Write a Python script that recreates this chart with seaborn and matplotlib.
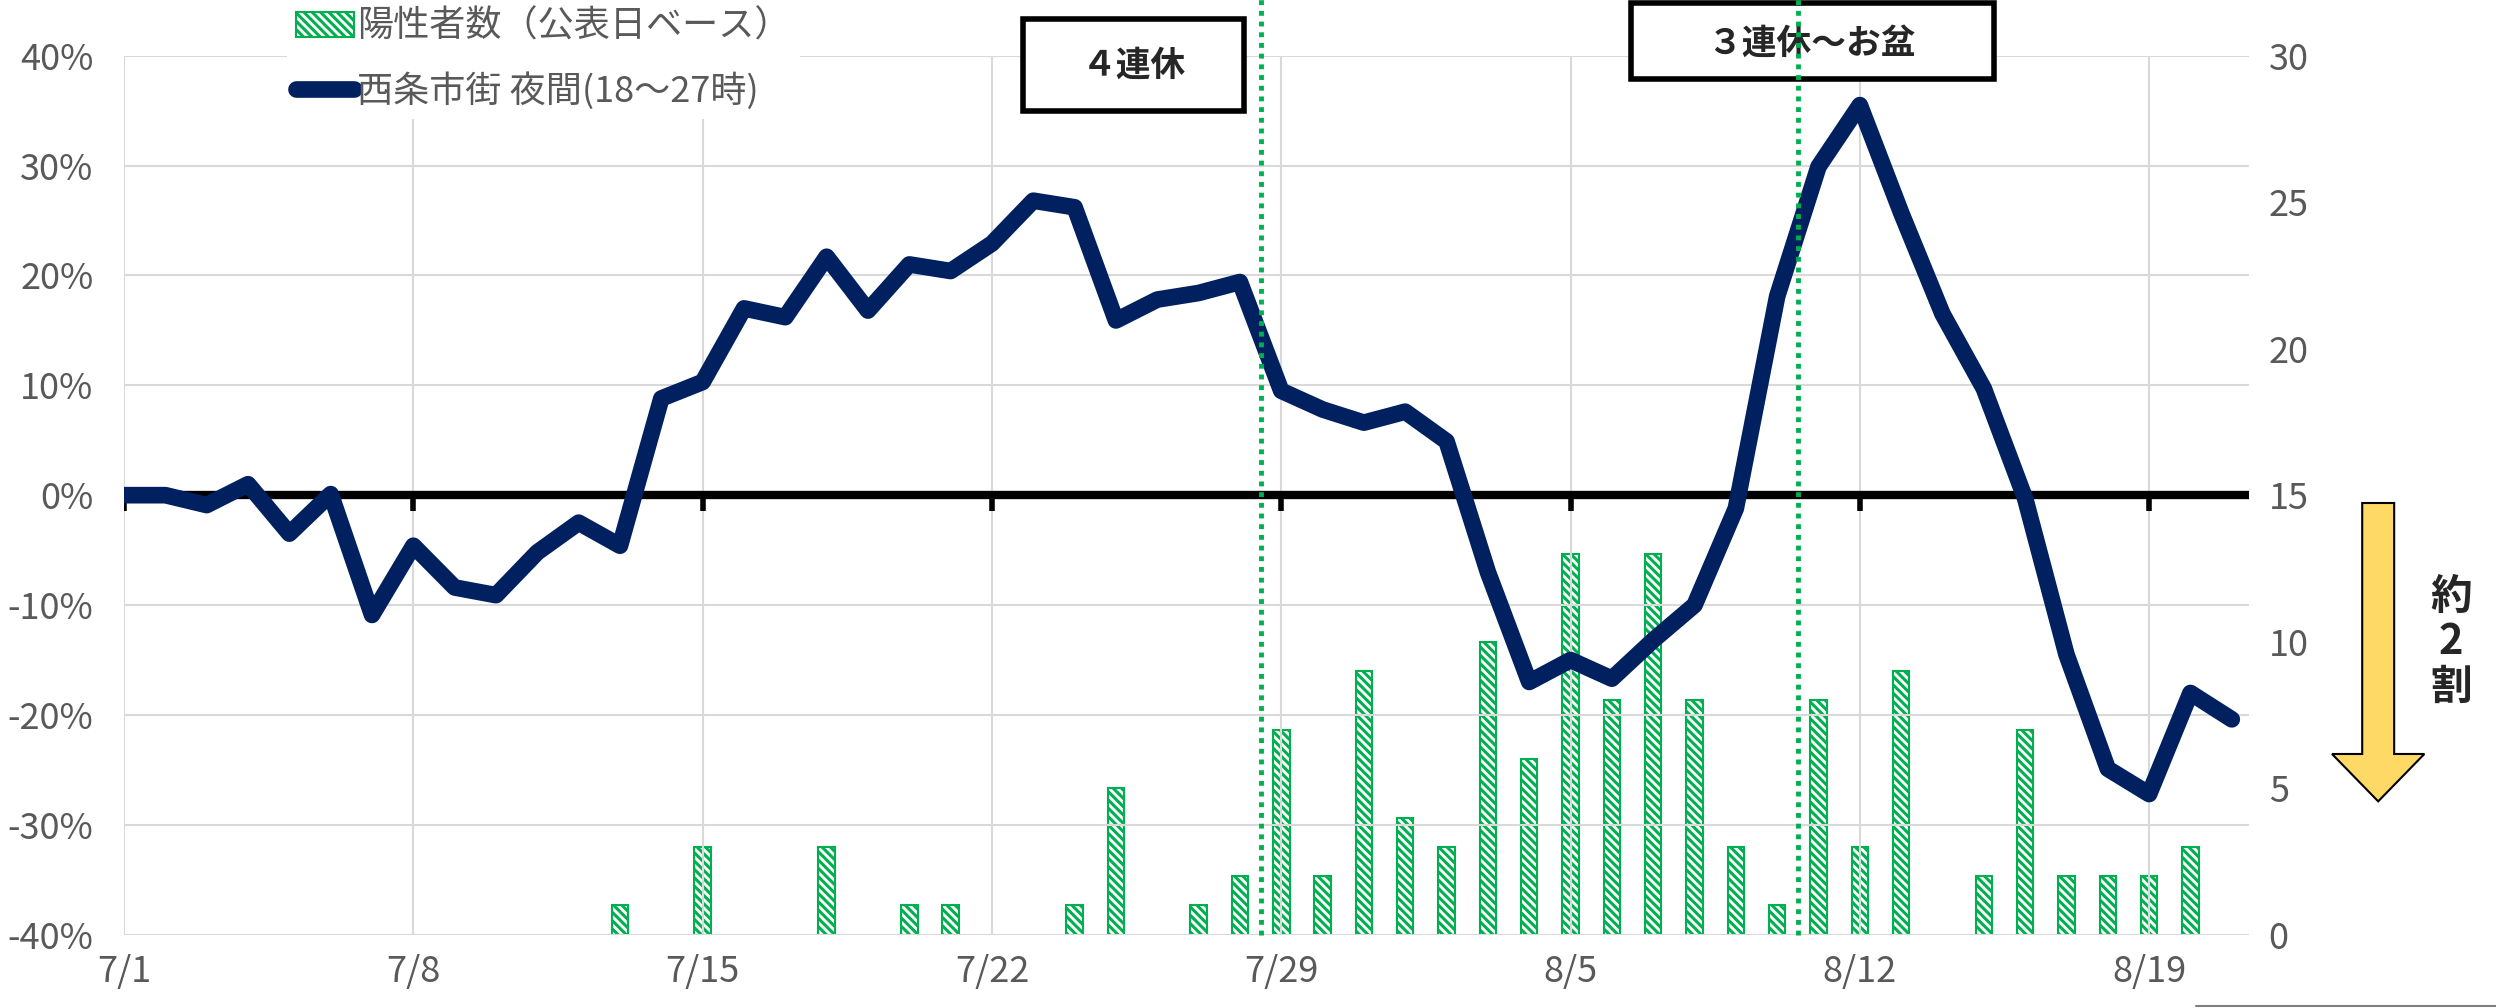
import matplotlib
matplotlib.use("Agg")
import matplotlib.pyplot as plt
from matplotlib.patches import Rectangle, FancyArrow
from matplotlib.lines import Line2D
import seaborn as sns
import pandas as pd
import numpy as np

# ---- data ----
dates = [f"7/{d}" for d in range(1, 32)] + [f"8/{d}" for d in range(1, 22)]

# 西条市街 夜間(18～27時) change vs baseline, %
night_change = [0.0, 0.0, -0.9, 1.0, -3.5, 0.1, -10.9, -4.6, -8.4, -9.1,
                -5.2, -2.5, -4.6, 8.8, 10.3, 17.0, 16.2, 21.7, 16.8, 21.0,
                20.4, 22.9, 26.8, 26.2, 15.9, 17.8, 18.4, 19.4, 9.5, 7.8,
                6.6, 7.6, 4.9, -7.0, -17.0, -15.0, -16.7, -13.2, -10.0, -1.2,
                18.1, 29.9, 35.5, 25.7, 16.5, 9.7, -0.3, -14.5, -24.9, -27.2,
                -18.0, -20.4]

# 陽性者数（公表日ベース）
cases = [0, 0, 0, 0, 0, 0, 0, 0, 0, 0,
         0, 0, 1, 0, 3, 0, 0, 3, 0, 1,
         1, 0, 0, 1, 5, 0, 1, 2, 7, 2,
         9, 4, 3, 10, 6, 13, 8, 13, 8, 3,
         1, 8, 3, 9, 0, 2, 7, 2, 2, 2,
         3, 0]

week_labels = ["7/1", "7/8", "7/15", "7/22", "7/29", "8/5", "8/12", "8/19"]
pct_ticks = [-40, -30, -20, -10, 0, 10, 20, 30, 40]
case_ticks = [0, 5, 10, 15, 20, 25, 30]
# holidays start between these days
holiday_after = ["7/28", "8/10"]

# ---- style ----
sns.set_style("white")
plt.rcParams["font.family"] = ["Noto Sans CJK JP", "DejaVu Sans"]
plt.rcParams["hatch.linewidth"] = 2.2

GRAY = "#595959"
NAVY = "#002060"
GREEN = "#00B050"

fig = plt.figure(figsize=(24.96, 10.08), dpi=100)
ax = fig.add_axes([0.0497, 0.0727, 0.8514, 0.8721])
ax2 = ax.twinx()
ax.set_zorder(ax2.get_zorder() + 1)
ax.patch.set_visible(False)

# bars (right axis)
df = pd.DataFrame({"date": dates, "cases": cases})
df_bars = df[df["cases"] > 0]
sns.barplot(data=df_bars, x="date", y="cases", order=dates, ax=ax2,
            color="white", saturation=1, width=0.4, errorbar=None,
            edgecolor=GREEN, linewidth=1.5, hatch="\\\\\\\\")
ax2.set_ylim(0, 30)
ax2.set_yticks(case_ticks, [str(t) for t in case_ticks])
ax2.set_ylabel("")
ax2.set_xlabel("")

# line (left axis)
x_idx = np.arange(len(dates))
sns.lineplot(x=x_idx, y=night_change, ax=ax, color=NAVY, linewidth=12,
             solid_capstyle="round", solid_joinstyle="round", zorder=4,
             legend=False)

week_pos = [dates.index(w) for w in week_labels]
ax.set_xlim(0, 51.42)
ax.set_ylim(-40, 40)
ax.set_yticks(pct_ticks, [f"{t}%" for t in pct_ticks])
ax.set_xticks(week_pos, week_labels)
ax.grid(True, color="#D9D9D9", linewidth=1.5)
ax.set_axisbelow(True)
ax.set_xlabel("")
ax.set_ylabel("")

# zero line with hanging tick marks
ax.axhline(0, color="black", linewidth=6, zorder=3)
ax.vlines(week_pos, -1.4, 0, color="black", linewidth=4, zorder=3)

for a in (ax, ax2):
    for s in a.spines.values():
        s.set_visible(False)
ax.tick_params(axis="both", length=0, labelsize=26, labelcolor=GRAY)
ax.tick_params(axis="y", pad=22)
ax.tick_params(axis="x", pad=14)
ax2.tick_params(axis="y", length=0, labelsize=26, labelcolor=GRAY, pad=14)

# holiday markers
for d in holiday_after:
    ax.axvline(dates.index(d) + 0.5, ymin=0, ymax=1.064, clip_on=False,
               color=GREEN, linewidth=3.5, linestyle=(0, (1, 1.2)), zorder=6)

# labelled boxes
ax.add_patch(Rectangle((0.423, 0.937), 0.104, 0.105, transform=ax.transAxes,
                       clip_on=False, facecolor="white", edgecolor="black",
                       linewidth=4, zorder=5))
ax.text(0.475, 0.989, "４連休", transform=ax.transAxes, ha="center",
        va="center", fontsize=25, fontweight="bold", zorder=5.5)
ax.add_patch(Rectangle((0.709, 0.973), 0.171, 0.087, transform=ax.transAxes,
                       clip_on=False, facecolor="white", edgecolor="black",
                       linewidth=4, zorder=5))
ax.text(0.794, 1.014, "３連休～お盆", transform=ax.transAxes, ha="center",
        va="center", fontsize=25, fontweight="bold", zorder=5.5)

# legend
bar_handle = ax2.patches[0]
line_handle = ax.lines[0]
fig.legend(handles=[bar_handle, line_handle],
           labels=["陽性者数（公表日ベース）", "西条市街 夜間(18～27時)"],
           loc="upper left", bbox_to_anchor=(0.115, 1.0), frameon=True,
           facecolor="white", edgecolor="none", framealpha=1, fontsize=26,
           labelcolor=GRAY, handlelength=1.6, handletextpad=0.1,
           labelspacing=0.75, borderpad=0.25, borderaxespad=0)

# yellow down arrow with note
fig.add_artist(FancyArrow(0.9528, 0.501, 0, -0.296, width=0.0128,
                          head_width=0.037, head_length=0.047,
                          length_includes_head=True, transform=fig.transFigure,
                          facecolor="#FFD966", edgecolor="black", linewidth=1.5))
fig.text(0.982, 0.363, "約\n2\n割", ha="center", va="center", fontsize=30,
         fontweight="bold", linespacing=1.1)

fig.add_artist(Line2D([0.88, 1.0], [0.002, 0.002], transform=fig.transFigure,
                      color="#7F7F7F", linewidth=1.5))

fig.savefig("out.png", dpi=100, facecolor="white")
